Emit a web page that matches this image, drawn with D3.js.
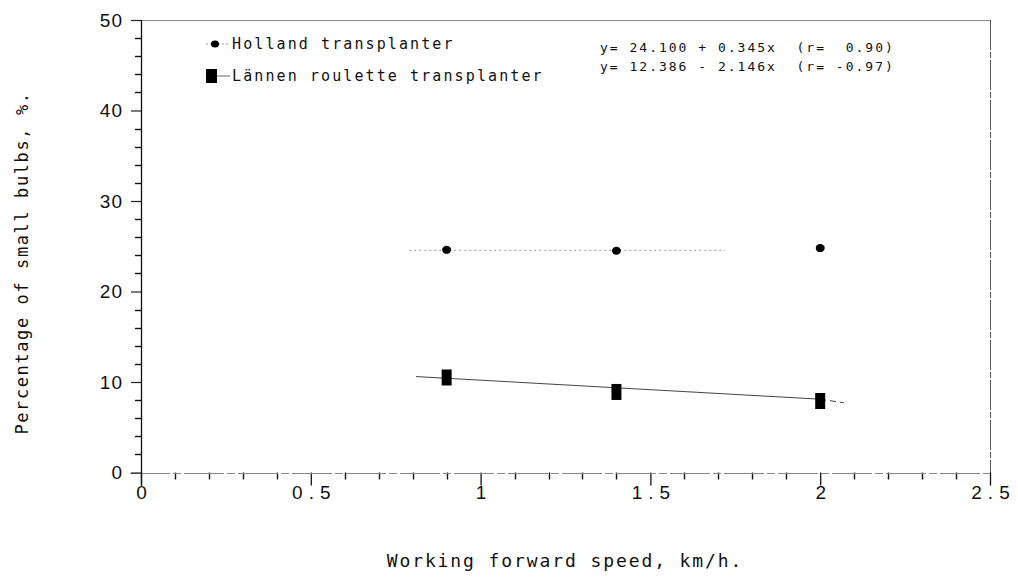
<!DOCTYPE html>
<html>
<head>
<meta charset="utf-8">
<script src="https://cdn.jsdelivr.net/npm/d3@7"></script>
<style>
  html, body { margin: 0; padding: 0; background: #fff; }
  svg { display: block; }
  .mono { font-family: "DejaVu Sans Mono", monospace; fill: #111; white-space: pre; }
  .num { font-family: "Liberation Sans", Arial, sans-serif; fill: #111; }
</style>
</head>
<body>
<svg id="chart" width="1018" height="580"></svg>
<script>
// ---- data ----
const speeds = [0.9, 1.4, 2.0];
const hollandValues = [24.6, 24.5, 24.8];
const lannenValues = [10.5, 8.9, 7.9];
const hollandFitX = [0.79, 1.72];
const hollandFitY = [24.55, 24.55];
const lannenFitX = [0.81, 2.0, 2.07];
const lannenFitY = [10.6, 8.1, 7.7];
const xMajorTicks = [0, 0.5, 1, 1.5, 2, 2.5];
const xTickLabels = ["0", "0.5", "1", "1.5", "2", "2.5"];
const xMinorTicks = [0.1, 0.2, 0.3, 0.4, 0.6, 0.7, 0.8, 0.9, 1.1, 1.2, 1.3, 1.4, 1.6, 1.7, 1.8, 1.9, 2.1, 2.2, 2.3, 2.4];
const yMajorTicks = [0, 10, 20, 30, 40, 50];
const yTickLabels = ["0", "10", "20", "30", "40", "50"];
const yMinorTicks = [2, 4, 6, 8, 12, 14, 16, 18, 22, 24, 26, 28, 32, 34, 36, 38, 42, 44, 46, 48];
const seriesNames = ["Holland transplanter", "Lännen roulette transplanter"];
const equations = ["y= 24.100 + 0.345x  (r=  0.90)", "y= 12.386 - 2.146x  (r= -0.97)"];
const xTitle = "Working forward speed, km/h.";
const yTitle = "Percentage of small bulbs, %.";

const svg = d3.select("#chart");
const x = d3.scaleLinear().domain([0, 2.5]).range([141, 990]);
const y = d3.scaleLinear().domain([0, 50]).range([472.5, 20]);
const crisp = v => Math.round(v) + 0.5;

// frame: top and right borders
svg.append("line").attr("x1", x(0)).attr("x2", x(2.5)).attr("y1", crisp(y(50))).attr("y2", crisp(y(50)))
  .attr("stroke", "#8a8a8a").attr("stroke-width", 1);
svg.append("line").attr("x1", crisp(x(2.5))).attr("x2", crisp(x(2.5))).attr("y1", y(50)).attr("y2", y(0) + 13)
  .attr("stroke", "#555").attr("stroke-width", 1).attr("stroke-dasharray", "30,2,6,2");

// x axis minor ticks
svg.append("g").selectAll("line").data(xMinorTicks).join("line")
  .attr("x1", d => crisp(x(d))).attr("x2", d => crisp(x(d)))
  .attr("y1", y(0)).attr("y2", y(0) + 7)
  .attr("stroke", "#111").attr("stroke-width", 1.4);
// x axis major ticks + labels
const gx = svg.append("g").attr("transform", `translate(0,${y(0)})`)
  .call(d3.axisBottom(x).tickValues(xMajorTicks).tickSize(13).tickPadding(0)
    .tickFormat((d, i) => xTickLabels[i]));
gx.select(".domain").remove();
gx.selectAll("line").attr("stroke", "#111").attr("stroke-width", 1.3);
gx.selectAll("text").attr("class", "num").attr("font-size", 19)
  .style("letter-spacing", d => (String(d).includes(".") ? "6px" : "0px"))
  .attr("dx", d => (String(d).includes(".") ? 3 : 0))
  .attr("fill", "#111");
// x axis baseline (light, slightly broken)
svg.append("line").attr("x1", x(0) - 11).attr("x2", x(2.5)).attr("y1", crisp(y(0))).attr("y2", crisp(y(0)))
  .attr("stroke", "#888").attr("stroke-width", 1).attr("stroke-dasharray", "40,3,8,3");

// y axis minor ticks
svg.append("g").selectAll("line").data(yMinorTicks).join("line")
  .attr("x1", x(0) - 6).attr("x2", x(0))
  .attr("y1", d => crisp(y(d))).attr("y2", d => crisp(y(d)))
  .attr("stroke", "#111").attr("stroke-width", 1.4);
// y axis majors + labels
const gy = svg.append("g").attr("transform", `translate(${x(0)},0)`)
  .call(d3.axisLeft(y).tickValues(yMajorTicks).tickSize(10).tickPadding(8)
    .tickFormat((d, i) => yTickLabels[i]));
gy.select(".domain").remove();
gy.selectAll("line").attr("stroke", "#222").attr("stroke-width", 1.2);
gy.selectAll("text").attr("class", "num").attr("font-size", 19).style("letter-spacing", "1px").attr("fill", "#111");
svg.append("line").attr("x1", crisp(x(0))).attr("x2", crisp(x(0))).attr("y1", y(50)).attr("y2", y(0) + 13)
  .attr("stroke", "#111").attr("stroke-width", 1.3);

// fit lines
const line = d3.line().x(d => x(d[0])).y(d => y(d[1]));
svg.append("path").datum(hollandFitX.map((v, i) => [v, hollandFitY[i]]))
  .attr("d", line).attr("fill", "none").attr("stroke", "#9a9a9a").attr("stroke-width", 1)
  .attr("stroke-dasharray", "2,3");
svg.append("path").datum(lannenFitX.slice(0, 2).map((v, i) => [v, lannenFitY[i]]))
  .attr("d", line).attr("fill", "none").attr("stroke", "#444").attr("stroke-width", 1);
svg.append("path").datum(lannenFitX.slice(1).map((v, i) => [v, lannenFitY[i + 1]]))
  .attr("d", line).attr("fill", "none").attr("stroke", "#444").attr("stroke-width", 1)
  .attr("stroke-dasharray", "6,4");

// markers
svg.append("g").selectAll("ellipse").data(speeds).join("ellipse")
  .attr("cx", (d) => x(d)).attr("cy", (d, i) => y(hollandValues[i]))
  .attr("rx", 4.5).attr("ry", 4).attr("fill", "#000");
svg.append("g").selectAll("rect").data(speeds).join("rect")
  .attr("x", d => x(d) - 5).attr("y", (d, i) => y(lannenValues[i]) - 8)
  .attr("width", 10).attr("height", 16).attr("fill", "#000");

// legend
svg.append("line").attr("x1", 206).attr("x2", 229).attr("y1", 44).attr("y2", 44)
  .attr("stroke", "#999").attr("stroke-dasharray", "2,2");
svg.append("ellipse").attr("cx", 215).attr("cy", 44).attr("rx", 4).attr("ry", 3.5).attr("fill", "#000");
svg.append("line").attr("x1", 210).attr("x2", 230).attr("y1", 76).attr("y2", 76)
  .attr("stroke", "#666");
svg.append("rect").attr("x", 206).attr("y", 69).attr("width", 11).attr("height", 14).attr("fill", "#000");
svg.append("g").selectAll("text").data(seriesNames).join("text")
  .attr("class", "mono").attr("x", 232).attr("y", (d, i) => 49 + i * 32)
  .attr("font-size", 15).style("letter-spacing", "2.1px").text(d => d);

// equations
svg.append("g").selectAll("text").data(equations).join("text")
  .attr("class", "mono").attr("x", 600).attr("y", (d, i) => 52 + i * 19)
  .attr("font-size", 13).style("letter-spacing", "2px").text(d => d);

// axis titles
svg.append("text").attr("class", "mono").attr("x", 565).attr("y", 567)
  .attr("text-anchor", "middle").attr("font-size", 18).style("letter-spacing", "1.9px").text(xTitle);
svg.append("text").attr("class", "mono")
  .attr("transform", "translate(28,263) rotate(-90)")
  .attr("text-anchor", "middle").attr("font-size", 17).style("letter-spacing", "1.6px").text(yTitle);
</script>
</body>
</html>
